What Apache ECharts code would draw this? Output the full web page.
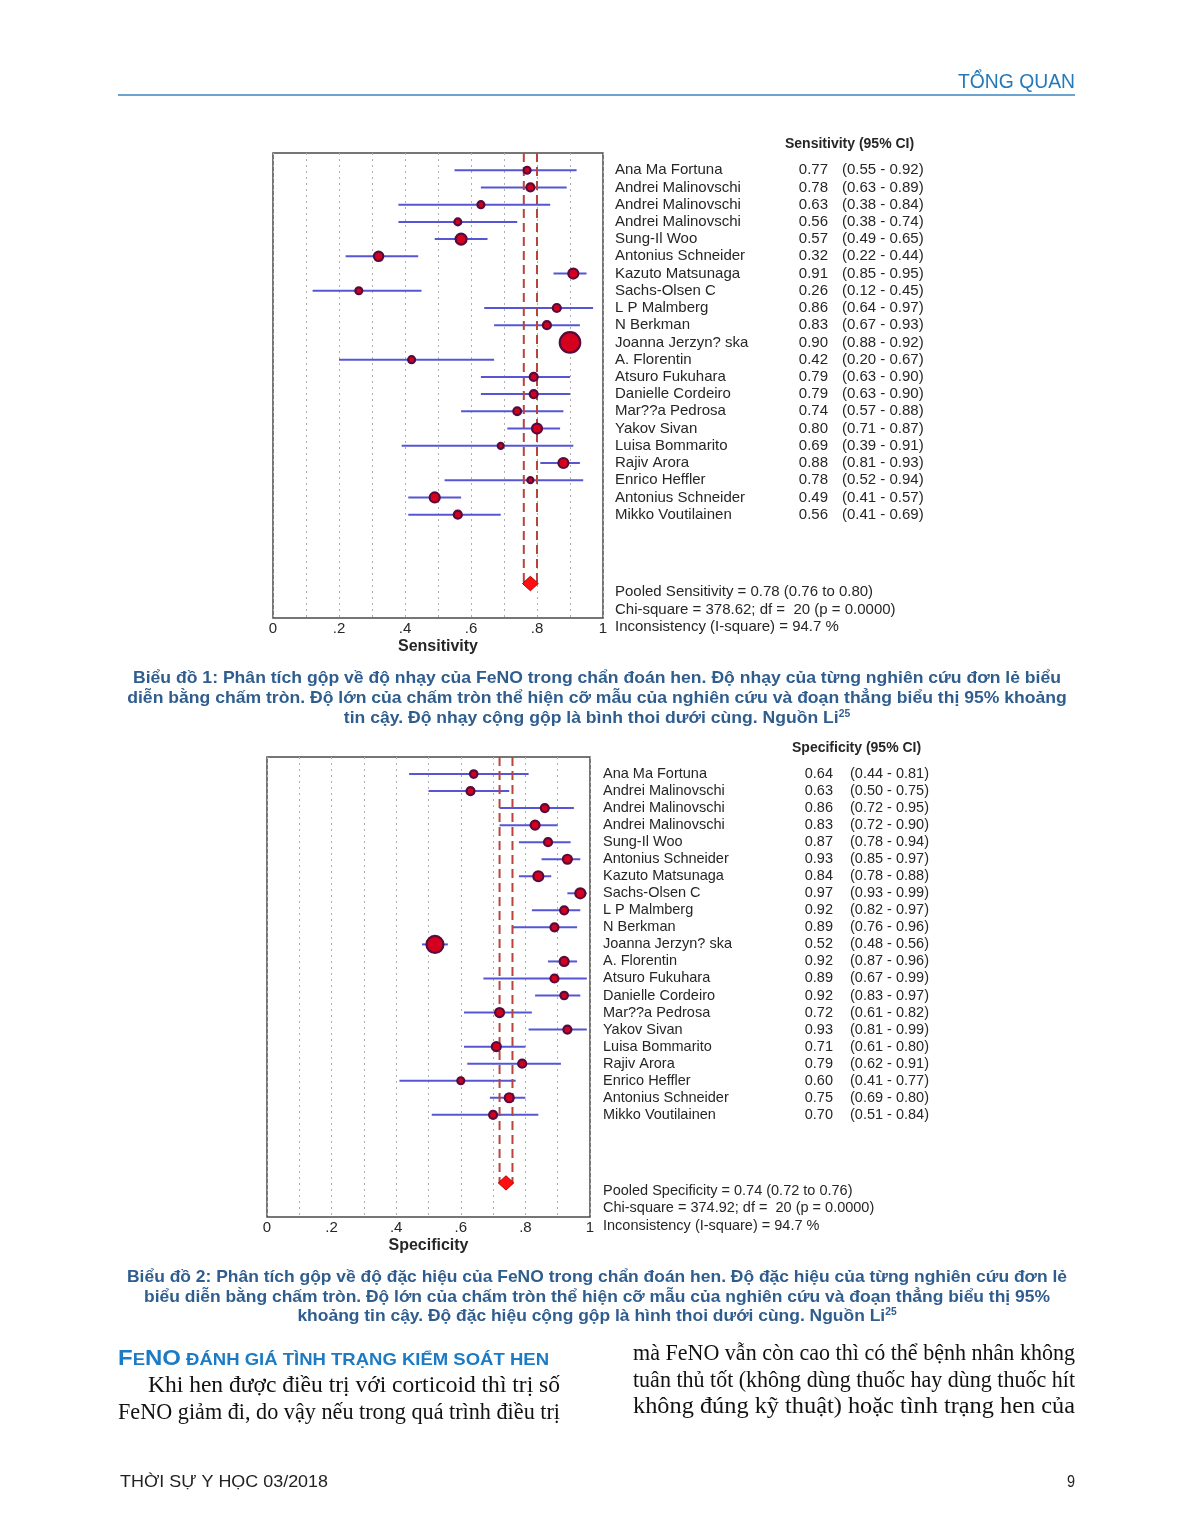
<!DOCTYPE html>
<html><head><meta charset="utf-8">
<script src="https://cdn.jsdelivr.net/npm/echarts/dist/echarts.min.js"></script>
<style>html,body{margin:0;padding:0;background:#fff}#c{width:1189px;height:1539px}</style>
</head><body><div id="c"></div>
<script>
// ---------------- DATA ----------------
const studies = ["Ana Ma Fortuna","Andrei Malinovschi","Andrei Malinovschi","Andrei Malinovschi","Sung-Il Woo","Antonius Schneider","Kazuto Matsunaga","Sachs-Olsen C","L P Malmberg","N Berkman","Joanna Jerzyn? ska","A. Florentin","Atsuro Fukuhara","Danielle Cordeiro","Mar??a Pedrosa","Yakov Sivan","Luisa Bommarito","Rajiv Arora","Enrico Heffler","Antonius Schneider","Mikko Voutilainen"];

const sensEst = [0.77,0.78,0.63,0.56,0.57,0.32,0.91,0.26,0.86,0.83,0.90,0.42,0.79,0.79,0.74,0.80,0.69,0.88,0.78,0.49,0.56];
const sensLo  = [0.55,0.63,0.38,0.38,0.49,0.22,0.85,0.12,0.64,0.67,0.88,0.20,0.63,0.63,0.57,0.71,0.39,0.81,0.52,0.41,0.41];
const sensHi  = [0.92,0.89,0.84,0.74,0.65,0.44,0.95,0.45,0.97,0.93,0.92,0.67,0.90,0.90,0.88,0.87,0.91,0.93,0.94,0.57,0.69];
const sensWeight = [12,16,12,12,30,22,25,12,16,16,105,12,16,16,15,25,9,25,9,25,16];
const sensPooled = [0.78,0.76,0.80];
const sensStats = ["Pooled Sensitivity = 0.78 (0.76 to 0.80)","Chi-square = 378.62; df =  20 (p = 0.0000)","Inconsistency (I-square) = 94.7 %"];

const specEst = [0.64,0.63,0.86,0.83,0.87,0.93,0.84,0.97,0.92,0.89,0.52,0.92,0.89,0.92,0.72,0.93,0.71,0.79,0.60,0.75,0.70];
const specLo  = [0.44,0.50,0.72,0.72,0.78,0.85,0.78,0.93,0.82,0.76,0.48,0.87,0.67,0.83,0.61,0.81,0.61,0.62,0.41,0.69,0.51];
const specHi  = [0.81,0.75,0.95,0.90,0.94,0.97,0.88,0.99,0.97,0.96,0.56,0.96,0.99,0.97,0.82,0.99,0.80,0.91,0.77,0.80,0.84];
const specWeight = [14,16,16,20,16,20,25,25,16,16,72,20,16,14,20,16,20,16,12,20,16];
const specPooled = [0.74,0.72,0.76];
const specStats = ["Pooled Specificity = 0.74 (0.72 to 0.76)","Chi-square = 374.92; df =  20 (p = 0.0000)","Inconsistency (I-square) = 94.7 %"];

const xTickLabels = ["0",".2",".4",".6",".8","1"];

const headerText = "TỔNG QUAN";
const footerLeft = "THỜI SỰ Y HỌC 03/2018";
const footerRight = "9";
const caption1 = ["Biểu đồ 1: Phân tích gộp về độ nhạy của FeNO trong chẩn đoán hen. Độ nhạy của từng nghiên cứu đơn lẻ biểu",
  "diễn bằng chấm tròn. Độ lớn của chấm tròn thể hiện cỡ mẫu của nghiên cứu và đoạn thẳng biểu thị 95% khoảng",
  "tin cậy. Độ nhạy cộng gộp là bình thoi dưới cùng. Nguồn Li"];
const caption2 = ["Biểu đồ 2: Phân tích gộp về độ đặc hiệu của FeNO trong chẩn đoán hen. Độ đặc hiệu của từng nghiên cứu đơn lẻ",
  "biểu diễn bằng chấm tròn. Độ lớn của chấm tròn thể hiện cỡ mẫu của nghiên cứu và đoạn thẳng biểu thị 95%",
  "khoảng tin cậy. Độ đặc hiệu cộng gộp là hình thoi dưới cùng. Nguồn Li"];
const refNum = "25";
const bodyLeft = ["Khi hen được điều trị với corticoid thì trị số","FeNO giảm đi, do vậy nếu trong quá trình điều trị"];
const bodyRight = ["mà FeNO vẫn còn cao thì có thể bệnh nhân không","tuân thủ tốt (không dùng thuốc hay dùng thuốc hít","không đúng kỹ thuật) hoặc tình trạng hen của"];

// ---------------- HELPERS ----------------
const SANS = "'Liberation Sans', Arial, Helvetica, sans-serif";
const SERIF = "'Liberation Serif', 'Times New Roman', Times, serif";
const mctx = document.createElement('canvas').getContext('2d');
function tw(text, size, family, weight){ mctx.font = (weight||'normal') + ' ' + size + 'px ' + family; return mctx.measureText(text).width; }
function fitText(text, x, y, width, size, family, weight, fill, align){
  const w = tw(text, size, family, weight);
  return {type:'text', x:x, y:y, scaleX: width / w, silent:true,
    style:{text:text, fontSize:size, fontFamily:family, fontWeight:weight, fill:fill, textAlign:align, align:align, textVerticalAlign:'middle', verticalAlign:'middle'}};
}

const Y_MIN = -1, Y_MAX = 26, POOLED_ROW = 24;

function forestSeries(gi, est, lo, hi, wts, pooled, tbl, header, stats){
  const txt = (text, x, y, size, align, weight) => ({type:'text', x:x, y:y,
    style:{text:text, fontSize:size, fontFamily:SANS, fontWeight:weight||'normal', fill:'#262626', textAlign:align, align:align, textVerticalAlign:'middle', verticalAlign:'middle'}});
  return [
    { // CI lines
      type:'custom', xAxisIndex:gi, yAxisIndex:gi, silent:true, z:2,
      data: est.map((_, i) => [lo[i], i, hi[i]]), encode:{x:[0,2], y:1},
      renderItem:(p, api) => {
        const a = api.coord([api.value(0), api.value(1)]), b = api.coord([api.value(2), api.value(1)]);
        return {type:'line', shape:{x1:a[0], y1:a[1], x2:b[0], y2:b[1]}, style:{stroke:'#5656d4', lineWidth:2}};
      }
    },
    { // pooled CI dashed lines
      type:'custom', xAxisIndex:gi, yAxisIndex:gi, silent:true, z:3,
      data: [[pooled[1], POOLED_ROW], [pooled[2], POOLED_ROW]], encode:{x:0, y:1},
      renderItem:(p, api) => {
        const a = api.coord([api.value(0), Y_MIN]), b = api.coord([api.value(0), api.value(1)]);
        return {type:'line', shape:{x1:a[0], y1:a[1], x2:b[0], y2:b[1]}, style:{stroke:'#b8443c', lineWidth:2, lineDash:[9,5]}};
      }
    },
    { // study points
      type:'scatter', xAxisIndex:gi, yAxisIndex:gi, silent:true, z:4,
      data: est.map((v, i) => [v, i, wts[i]]),
      symbolSize: d => 2 * Math.sqrt(d[2]),
      itemStyle:{color:'#d4001e', borderColor:'#560b3c', borderWidth:2.2, opacity:1}
    },
    { // pooled diamond
      type:'custom', xAxisIndex:gi, yAxisIndex:gi, silent:true, z:5,
      data: [[pooled[0], POOLED_ROW, pooled[1], pooled[2]]], encode:{x:[0,2,3], y:1},
      renderItem:(p, api) => {
        const e = api.value(0), r = api.value(1), l = api.value(2), h = api.value(3);
        const pts = [api.coord([l - 0.004, r]), api.coord([e, r - 0.42]), api.coord([h + 0.004, r]), api.coord([e, r + 0.42])];
        return {type:'polygon', shape:{points:pts}, style:{fill:'#ff1010', stroke:'#b00000', lineWidth:1}};
      }
    },
    { // table text
      type:'custom', xAxisIndex:gi, yAxisIndex:gi, silent:true, z:5,
      data: est.map((_, i) => [0, i]), encode:{x:0, y:1},
      renderItem:(p, api) => {
        const i = p.dataIndex, y = api.coord([0, api.value(1)])[1];
        return {type:'group', children:[
          txt(studies[i], tbl.name, y, tbl.size, 'left'),
          txt(est[i].toFixed(2), tbl.est, y, tbl.size, 'right'),
          txt('(' + lo[i].toFixed(2) + ' - ' + hi[i].toFixed(2) + ')', tbl.ci, y, tbl.size, 'left')
        ]};
      }
    },
    { // header & pooled stats
      type:'custom', xAxisIndex:gi, yAxisIndex:gi, silent:true, z:5,
      data: [[0, -1.5], [0, POOLED_ROW + 0.5], [0, POOLED_ROW + 1.5], [0, POOLED_ROW + 2.5]], encode:{x:0, y:1},
      renderItem:(p, api) => {
        const i = p.dataIndex, y = api.coord([0, api.value(1)])[1];
        if (i === 0) return txt(header, tbl.head, y, tbl.headSize, 'left', 'bold');
        return txt(stats[i - 1], tbl.name, y, tbl.statSize, 'left');
      }
    }
  ];
}

function xAxisCfg(gi, name){
  return {gridIndex:gi, type:'value', min:0, max:1, interval:0.1,
    axisLine:{show:false}, axisTick:{show:false},
    splitLine:{show:true, lineStyle:{color:'#b0b0b0', width:1, type:[2,4]}},
    axisLabel:{color:'#262626', fontSize:15, fontFamily:SANS, margin:3, showMinLabel:true, showMaxLabel:true,
      formatter: v => { const k = Math.round(v * 10); return k % 2 === 0 ? xTickLabels[k / 2] : ''; }},
    name:name, nameLocation:'middle', nameGap:21,
    nameTextStyle:{color:'#262626', fontSize:16, fontWeight:'bold', fontFamily:SANS}};
}
function yAxisCfg(gi){ return {gridIndex:gi, type:'value', min:Y_MIN, max:Y_MAX, inverse:true, show:false}; }

// ---------------- PAGE TEXT (graphic) ----------------
const graphics = [];
graphics.push({type:'line', silent:true, shape:{x1:118, y1:95, x2:1075, y2:95}, style:{stroke:'#3d85bf', lineWidth:1.5}});
graphics.push(fitText(headerText, 1075, 82, 117, 20, SANS, 'normal', '#2479ba', 'right'));

const capColor = '#2f5d8e', capSize = 17;
function captionBlock(lines, ys, widthFirst){
  const s = widthFirst / tw(lines[0], capSize, SANS, 'bold');
  lines.forEach((ln, k) => {
    const last = k === lines.length - 1;
    graphics.push({type:'text', x:597, y:ys[k], scaleX:s, silent:true,
      style:{text: last ? ln + '{sup|' + refNum + '}' : ln, fontSize:capSize, fontFamily:SANS, fontWeight:'bold', fill:capColor,
        textAlign:'center', align:'center', textVerticalAlign:'middle', verticalAlign:'middle',
        rich:{sup:{fontSize:10, fontFamily:SANS, fontWeight:'bold', fill:capColor, color:capColor, verticalAlign:'top', padding:[0,0,6,0]}}}});
  });
}
captionBlock(caption1, [678, 698, 718], 928);
captionBlock(caption2, [1277, 1297, 1316], 940);

// heading (small caps style)
(function(){
  const big = 22, small = 17, col = '#1b7bc4';
  const rest = ' ĐÁNH GIÁ TÌNH TRẠNG KIỂM SOÁT HEN';
  const w = tw('F', big, SANS, 'bold') + tw('E', small, SANS, 'bold') + tw('NO', big, SANS, 'bold') + tw(rest, small, SANS, 'bold');
  graphics.push({type:'text', x:118, y:1358, scaleX: 431 / w, silent:true,
    style:{text:'{b|F}{s|E}{b|NO}{s|' + rest + '}', fill:col, textAlign:'left', align:'left', textVerticalAlign:'middle', verticalAlign:'middle',
      rich:{b:{fontSize:big, fontWeight:'bold', fontFamily:SANS, fill:col, color:col, verticalAlign:'bottom', lineHeight:24},
            s:{fontSize:small, fontWeight:'bold', fontFamily:SANS, fill:col, color:col, verticalAlign:'bottom', lineHeight:24, padding:[0,0,1,0]}}}});
})();

// body text (justified by fitting)
const BODY = 23;
graphics.push(fitText(bodyLeft[0], 148, 1386, 412, BODY, SERIF, 'normal', '#111', 'left'));
graphics.push(fitText(bodyLeft[1], 118, 1413, 442, BODY, SERIF, 'normal', '#111', 'left'));
graphics.push(fitText(bodyRight[0], 633, 1354, 442, BODY, SERIF, 'normal', '#111', 'left'));
graphics.push(fitText(bodyRight[1], 633, 1381, 442, BODY, SERIF, 'normal', '#111', 'left'));
graphics.push(fitText(bodyRight[2], 633, 1407, 442, BODY, SERIF, 'normal', '#111', 'left'));

// footer
graphics.push(fitText(footerLeft, 120, 1482, 208, 17, SANS, 'normal', '#222', 'left'));
graphics.push({type:'text', x:1075, y:1482, silent:true, scaleX:0.85,
  style:{text:footerRight, fontSize:17, fontFamily:SANS, fill:'#222', textAlign:'right', align:'right', textVerticalAlign:'middle', verticalAlign:'middle'}});

// ---------------- OPTION ----------------
const chart = echarts.init(document.getElementById('c'), null, {renderer:'canvas'});
const option = {
  animation:false,
  backgroundColor:'#ffffff',
  grid:[
    {left:273, top:153, width:330, height:465, show:true, borderColor:'#4a4a4a', borderWidth:1.5, backgroundColor:'rgba(0,0,0,0)', containLabel:false},
    {left:267, top:757, width:323, height:460, show:true, borderColor:'#4a4a4a', borderWidth:1.5, backgroundColor:'rgba(0,0,0,0)', containLabel:false}
  ],
  xAxis:[xAxisCfg(0, 'Sensitivity'), xAxisCfg(1, 'Specificity')],
  yAxis:[yAxisCfg(0), yAxisCfg(1)],
  series:[
    ...forestSeries(0, sensEst, sensLo, sensHi, sensWeight, sensPooled,
      {name:615, est:828, ci:842, size:15, head:785, headSize:14, statSize:15}, "Sensitivity (95% CI)", sensStats),
    ...forestSeries(1, specEst, specLo, specHi, specWeight, specPooled,
      {name:603, est:833, ci:850, size:14.5, head:792, headSize:14, statSize:14.5}, "Specificity (95% CI)", specStats)
  ],
  graphic:{elements:graphics}
};
chart.setOption(option);
</script>
</body></html>
